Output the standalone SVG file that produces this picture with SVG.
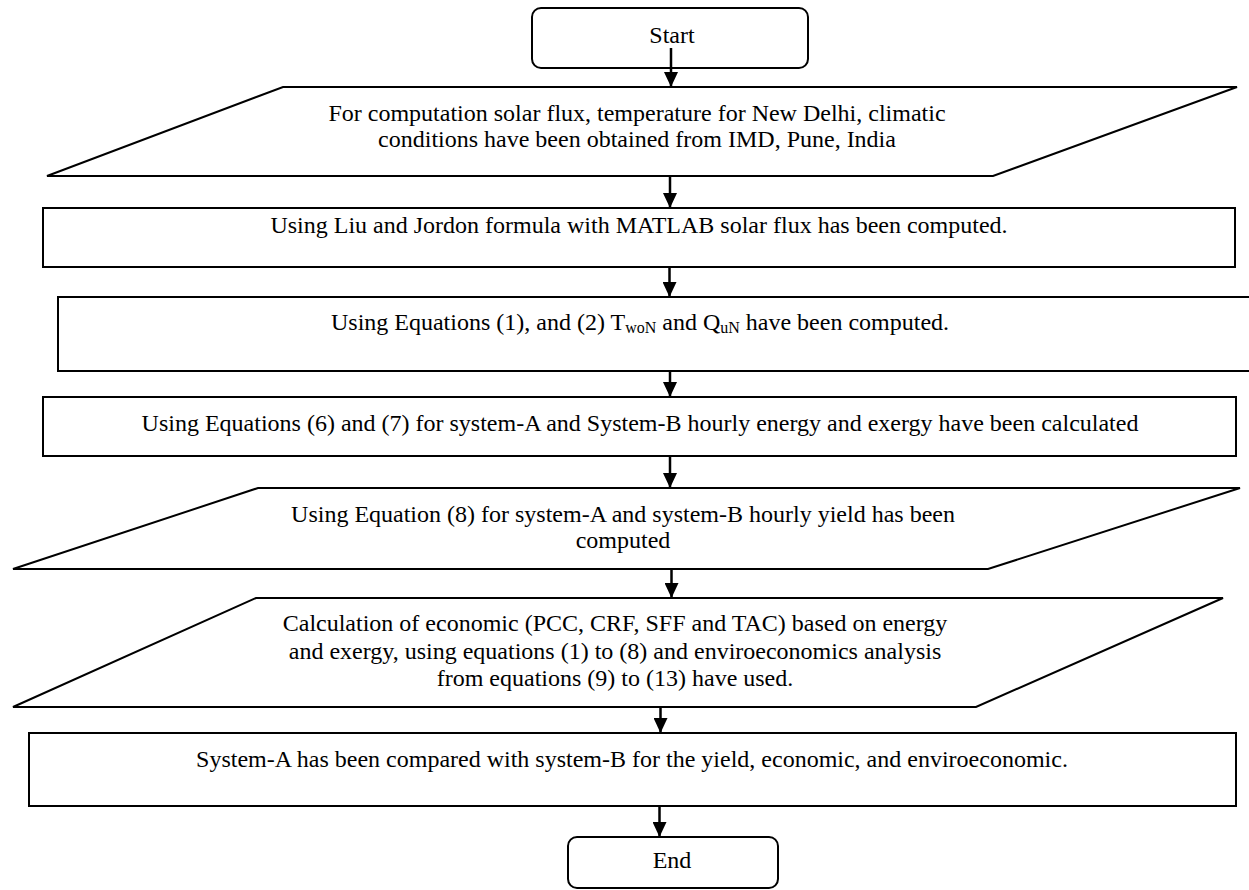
<svg xmlns="http://www.w3.org/2000/svg" width="1249" height="890" viewBox="0 0 1249 890">
<style>
  .shape { fill: #ffffff; stroke: #000000; stroke-width: 2; }
  .lbl { font-family: "Liberation Serif", "Times New Roman", serif; font-size: 24px; fill: #000000; text-anchor: middle; }
  .sub { font-size: 16px; }
  .conn { stroke: #000000; stroke-width: 2.5; fill: none; }
</style>
<defs>
  <marker id="arrow" markerUnits="userSpaceOnUse" markerWidth="15" markerHeight="14" refX="15" refY="7" orient="auto" viewBox="0 0 15 14">
    <path d="M0,0 L15,7 L0,14 Z" fill="#000000"/>
  </marker>
</defs>
<rect width="1249" height="890" fill="#ffffff"/>

<g id="start">
  <rect class="shape" x="532" y="8" width="276" height="60" rx="9" ry="9"/>
  <text class="lbl" x="672" y="43">Start</text>
</g>

<g id="input-climate">
  <polygon class="shape" points="283,87 1237,87 993,176 47,176"/>
  <text class="lbl" x="637" y="121">For computation solar flux, temperature for New Delhi, climatic</text>
  <text class="lbl" x="637" y="147">conditions have been obtained from IMD, Pune, India</text>
</g>

<g id="liu-jordon">
  <rect class="shape" x="43" y="208" width="1192" height="59"/>
  <text class="lbl" x="639" y="233">Using Liu and Jordon formula with MATLAB solar flux has been computed.</text>
</g>

<g id="eq-1-2">
  <rect class="shape" x="58" y="297" width="1210" height="74"/>
  <text class="lbl" x="640" y="330">Using Equations (1), and (2) T<tspan class="sub" dy="3">woN</tspan><tspan dy="-3"> and Q</tspan><tspan class="sub" dy="3">uN</tspan><tspan dy="-3"> have been computed.</tspan></text>
</g>

<g id="eq-6-7">
  <rect class="shape" x="43" y="397" width="1193" height="59"/>
  <text class="lbl" x="640" y="431">Using Equations (6) and (7) for system-A and System-B hourly energy and exergy have been calculated</text>
</g>

<g id="eq-8">
  <polygon class="shape" points="258,488 1240,488 988,569 13,569"/>
  <text class="lbl" x="623" y="522">Using Equation (8) for system-A and system-B hourly yield has been</text>
  <text class="lbl" x="623" y="548">computed</text>
</g>

<g id="economic">
  <polygon class="shape" points="256,598 1223,598 976,707 13,707"/>
  <text class="lbl" x="615" y="631">Calculation of economic (PCC, CRF, SFF and TAC) based on energy</text>
  <text class="lbl" x="615" y="659">and exergy, using equations (1) to (8) and enviroeconomics analysis</text>
  <text class="lbl" x="615" y="686">from equations (9) to (13) have used.</text>
</g>

<g id="compare">
  <rect class="shape" x="29" y="733" width="1207" height="73"/>
  <text class="lbl" x="632" y="767">System-A has been compared with system-B for the yield, economic, and enviroeconomic.</text>
</g>

<g id="end">
  <rect class="shape" x="568" y="837" width="210" height="51" rx="9" ry="9"/>
  <text class="lbl" x="672" y="868">End</text>
</g>

<g id="connectors">
  <line class="conn" x1="671" y1="48" x2="671" y2="87" marker-end="url(#arrow)"/>
  <line class="conn" x1="670" y1="176" x2="670" y2="208" marker-end="url(#arrow)"/>
  <line class="conn" x1="669.5" y1="267" x2="669.5" y2="297" marker-end="url(#arrow)"/>
  <line class="conn" x1="670" y1="371" x2="670" y2="397" marker-end="url(#arrow)"/>
  <line class="conn" x1="670" y1="456" x2="670" y2="488" marker-end="url(#arrow)"/>
  <line class="conn" x1="671.5" y1="569" x2="671.5" y2="598" marker-end="url(#arrow)"/>
  <line class="conn" x1="660.5" y1="707" x2="660.5" y2="733" marker-end="url(#arrow)"/>
  <line class="conn" x1="659.5" y1="806" x2="659.5" y2="837" marker-end="url(#arrow)"/>
</g>
</svg>
